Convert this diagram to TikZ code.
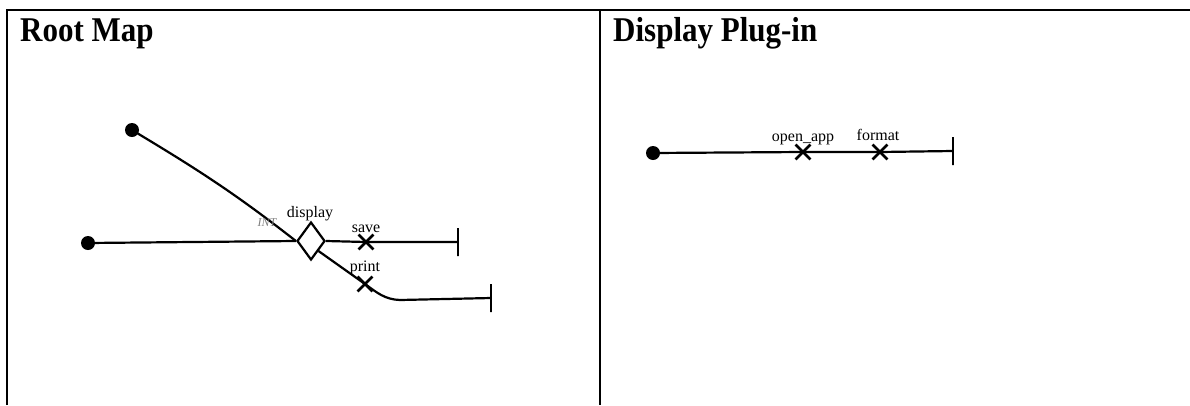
\documentclass[tikz,border=0pt]{standalone}
\usepackage{fontspec}
\setmainfont{Liberation Serif}
\usetikzlibrary{shapes.geometric,shapes.misc}
\begin{document}
\begin{tikzpicture}[x=1pt,y=-1pt,
  frame/.style={line width=1.8pt},
  title/.style={font=\fontsize{31}{36}\selectfont\bfseries, anchor=base west, inner sep=0},
  dotnode/.style={circle, fill, inner sep=0, minimum size=14pt},
  flow/.style={line width=2.2pt},
  xmark/.style={cross out, draw, line width=2.8pt, minimum size=12pt, inner sep=0},
  endbar/.style={draw, line width=2.6pt, inner sep=0, minimum width=0pt, minimum height=28pt},
  lbl/.style={font=\fontsize{16}{18}\selectfont, anchor=base, inner sep=0},
  intlbl/.style={font=\fontsize{12}{14}\selectfont\itshape, text=gray, anchor=base, inner sep=0},
  gate/.style={diamond, draw, line width=2.2pt, minimum width=28pt, minimum height=38pt, inner sep=0, fill=white}
]
\useasboundingbox (0,0) rectangle (1190,405);
% frame
\draw[frame] (7,405) -- (7,10) -- (1190,10);
\draw[frame] (600,10) -- (600,405);
% titles
\node[title] (t1) at (20,41) {\scalebox{1}[1.12]{Root Map}};
\node[title] (t2) at (613,41) {\scalebox{1}[1.12]{Display Plug-in}};

% ---- Root map ----
\node[dotnode] (dot1) at (132,130) {};
\node[dotnode] (dot2) at (88,243) {};
\node[gate] (dia) at (311,241) {};
\node[xmark] (savex) at (366,242) {};
\node[endbar] (saveend) at (458,242) {};
\node[xmark] (printx) at (365,284) {};
\coordinate (printbend) at (400,300);
\node[endbar] (printend) at (491,298) {};

\draw[flow] (dot2.center) -- (dia.west);
\draw[flow] (dot1.center) to[out=-31,in=142] (dia.west);
\draw[flow] (dia.east) -- (savex.center) -- (saveend.center);
\draw[flow] (dia.south east) -- (printx.center) to[out=-36,in=178] (printbend) -- (printend.center);

\node[lbl] (ldisplay) at (310,217) {display};
\node[lbl] (lsave) at (366,232) {save};
\node[lbl] (lprint) at (365,271) {print};
\node[intlbl] (lint) at (267,226) {INT};

% ---- Display plug-in ----
\node[dotnode] (dot3) at (653,153) {};
\node[xmark] (openx) at (803,152) {};
\node[xmark] (formx) at (880,152) {};
\node[endbar] (plugend) at (953,151) {};
\draw[flow] (dot3.center) -- (openx.center) -- (formx.center) -- (plugend.center);
\node[lbl] (lopen) at (803,141) {open\_app};
\node[lbl] (lformat) at (878,140) {format};
\end{tikzpicture}
\end{document}
